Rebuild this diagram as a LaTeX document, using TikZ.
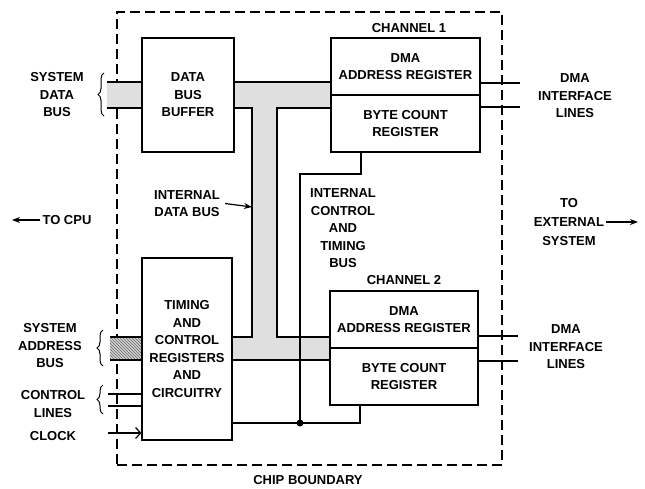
\documentclass[tikz,border=0pt]{standalone}
\usepackage{fontspec}
\setmainfont{Liberation Sans}
\usetikzlibrary{decorations.pathreplacing,patterns,arrows.meta}
\begin{document}
\begin{tikzpicture}[x=1pt,y=-1pt,
  lbl/.style={font=\fontsize{13}{17.5}\selectfont\bfseries, align=center, inner sep=0pt},
  box/.style={draw, line width=1.2pt, inner sep=0pt, align=center, font=\fontsize{13}{17.5}\selectfont\bfseries},
  bus/.style={fill=gray!25, draw, line width=1.2pt},
  wire/.style={line width=1.2pt},
  arr/.style={line width=1.2pt, -{Stealth[length=8pt,width=6pt]}},
  brc/.style={decorate, decoration={brace, amplitude=6pt}, line width=1pt}
]
\useasboundingbox (0,0) rectangle (645,488);

% chip boundary
\node[draw, dash pattern=on 10pt off 5pt, line width=1.1pt, minimum width=385, minimum height=453, inner sep=0pt] (chip) at (309.5,238.5) {};
\node[lbl] (chiplbl) at (308,480) {CHIP BOUNDARY};

% internal data bus
\draw[bus] (234,82) -- (331,82) -- (331,108) -- (277,108) -- (277,337) -- (330,337) -- (330,360) -- (232,360) -- (232,337) -- (252,337) -- (252,108) -- (234,108) -- cycle;

% system data bus stub
\fill[gray!25] (107,82) rectangle (142,108);
\draw[wire] (107,82) -- (142,82) (107,108) -- (142,108);
% system address bus stub
\fill[gray!35] (110,337) rectangle (142,360);
\fill[pattern=north west lines, pattern color=gray!80!black] (110,337) rectangle (142,360);
\draw[wire] (110,337) -- (142,337) (110,360) -- (142,360);

% blocks
\node[box, minimum width=92, minimum height=114] (dbb) at (188,95) {DATA\\BUS\\BUFFER};
\node[box, minimum width=90, minimum height=182] (tcr) at (187,349) {TIMING\\AND\\CONTROL\\REGISTERS\\AND\\CIRCUITRY};
\node[box, minimum width=149, minimum height=57] (c1a) at (405.5,66.5) {DMA\\ADDRESS REGISTER};
\node[box, minimum width=149, minimum height=57] (c1b) at (405.5,123.5) {BYTE COUNT\\REGISTER};
\node[box, minimum width=148, minimum height=57] (c2a) at (404,319.5) {DMA\\ADDRESS REGISTER};
\node[box, minimum width=148, minimum height=57] (c2b) at (404,376.5) {BYTE COUNT\\REGISTER};
\node[lbl] (ch1) at (409,28.5) {CHANNEL 1};
\node[lbl] (ch2) at (404,280) {CHANNEL 2};

% control lines and clock
\coordinate (cl1) at (108,394);
\coordinate (cl2) at (108,406);
\coordinate (clk) at (108,433);
\draw[wire] (cl1) -- (tcr.west |- cl1);
\draw[wire] (cl2) -- (tcr.west |- cl2);
\draw[wire, -{Straight Barb[length=5pt,width=11pt]}] (clk) -- (tcr.west |- clk);

% internal control and timing bus
\coordinate (k) at (300,174);
\coordinate (j) at (300,423);
\coordinate (c1x) at (361,0);
\coordinate (c2x) at (360,0);
\draw[wire] (c1b.south -| c1x) |- (k) -- (j);
\draw[wire] (tcr.east |- j) -- (j) -| (c2b.south -| c2x);
\fill (j) circle (3.5pt);

% interface lines
\coordinate (i1) at (520,83);
\coordinate (i2) at (520,107);
\coordinate (i3) at (518,336);
\coordinate (i4) at (518,361);
\draw[wire] (c1a.east |- i1) -- (i1);
\draw[wire] (c1b.east |- i2) -- (i2);
\draw[wire] (c2a.east |- i3) -- (i3);
\draw[wire] (c2b.east |- i4) -- (i4);

% labels
\node[lbl] (if1) at (575,96) {DMA\\INTERFACE\\LINES};
\node[lbl] (if2) at (566,347) {DMA\\INTERFACE\\LINES};
\node[lbl] (sdb) at (57,95) {SYSTEM\\DATA\\BUS};
\node[lbl] (sab) at (50,346) {SYSTEM\\ADDRESS\\BUS};
\node[lbl] (ctl) at (53,404) {CONTROL\\LINES};
\node[lbl] (clock) at (53,436) {CLOCK};
\node[lbl] (ictb) at (343,228.5) {INTERNAL\\CONTROL\\AND\\TIMING\\BUS};
\node[lbl] (idb) at (187,203.5) {INTERNAL\\DATA BUS};
\node[lbl] (tocpu) at (67,220) {TO CPU};
\node[lbl, font=\fontsize{13}{19}\selectfont\bfseries] (toext) at (569,222) {TO\\EXTERNAL\\SYSTEM};

% braces
\draw[brc] (104,116) -- (104,73);
\draw[brc] (103,366) -- (103,330);
\draw[brc] (103,414) -- (103,385);

% arrows
\coordinate (idbp) at (252,207);
\draw[arr] ([xshift=5pt]idb.east) -- (idbp);
\coordinate (cpup) at (12,220);
\draw[arr] ([xshift=-2pt]tocpu.west) -- (cpup);
\coordinate (extp) at (638,222);
\draw[arr] ([xshift=2pt]toext.east) -- (extp);
\end{tikzpicture}
\end{document}
